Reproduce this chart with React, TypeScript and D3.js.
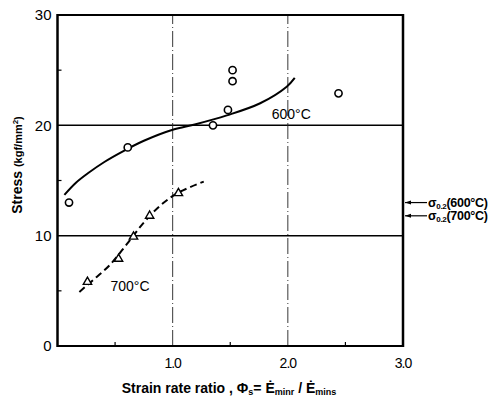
import React from 'react';
import * as d3 from 'd3';

// measured points, 600°C (circles)
const circX600 = [0.1, 0.61, 1.35, 1.48, 1.52, 1.52, 2.44];
const circY600 = [13.0, 18.0, 20.0, 21.4, 24.0, 25.0, 22.9];
// fitted curve 600°C
const fitX600 = [0.06, 0.16, 0.27, 0.41, 0.56, 0.75, 1.0, 1.2, 1.47, 1.76, 1.99, 2.06];
const fitY600 = [13.7, 14.8, 15.7, 16.7, 17.6, 18.6, 19.6, 20.1, 20.9, 22.0, 23.5, 24.3];
// measured points, 700°C (triangles)
const triX700 = [0.26, 0.53, 0.66, 0.8, 1.05];
const triY700 = [5.8, 7.9, 9.9, 11.8, 13.85];
// fitted curve 700°C (dashed)
const fitX700 = [0.19, 0.3, 0.45, 0.6, 0.75, 0.9, 1.05, 1.27];
const fitY700 = [4.9, 5.9, 7.3, 9.2, 11.2, 12.8, 13.9, 14.9];

const yTicks = [0, 10, 20, 30];
const yMinor = [5, 15, 25];
const xTicks = [1.0, 2.0, 3.0];
const xMinor = [0.5, 1.5, 2.5];
const sigma02 = [13.0, 11.8]; // 600°C, 700°C

const W = 495;
const H = 399;

const App: React.FC = () => {
  const x = d3.scaleLinear().domain([0, 3]).range([57.5, 403]);
  const y = d3.scaleLinear().domain([0, 30]).range([346, 15]);

  const line = d3.line<[number, number]>()
    .x(d => x(d[0]))
    .y(d => y(d[1]))
    .curve(d3.curveCatmullRom);

  const p600 = line(fitX600.map((v, i) => [v, fitY600[i]]) as [number, number][]) || '';
  const p700 = line(fitX700.map((v, i) => [v, fitY700[i]]) as [number, number][]) || '';

  const tri = d3.symbol().type(d3.symbolTriangle).size(30)() || '';
  const font = 'Liberation Sans, Arial, sans-serif';

  return (
    <svg width={W} height={H} style={{ position: 'absolute', left: 0, top: 0 }}
      fontFamily={font}>
      <rect width={W} height={H} fill="#fff" />

      {/* grid */}
      {[10, 20].map(v => (
        <line key={'h' + v} x1={x(0)} x2={x(3)} y1={y(v)} y2={y(v)} stroke="#000" strokeWidth={1.5} />
      ))}
      {[1, 2].map(v => (
        <line key={'v' + v} x1={x(v)} x2={x(v)} y1={y(0)} y2={y(30)} stroke="#222"
          strokeWidth={0.9} strokeDasharray="16 3 1 3" />
      ))}

      {/* frame */}
      <line x1={x(0)} x2={x(3)} y1={y(30)} y2={y(30)} stroke="#000" strokeWidth={2} />
      <line x1={x(0)} x2={x(3)} y1={y(0)} y2={y(0)} stroke="#000" strokeWidth={2} />
      <line x1={x(0)} x2={x(0)} y1={y(0) + 1} y2={y(30) - 1} stroke="#000" strokeWidth={2.5} />
      <line x1={x(3)} x2={x(3)} y1={y(0) + 1} y2={y(30) - 1} stroke="#000" strokeWidth={2.5} />

      {/* minor ticks */}
      {yMinor.map(v => (
        <line key={'ym' + v} x1={x(0)} x2={x(0) + 4} y1={y(v)} y2={y(v)} stroke="#000" strokeWidth={1.2} />
      ))}
      {xMinor.map(v => (
        <line key={'xm' + v} x1={x(v)} x2={x(v)} y1={y(0)} y2={y(0) - 4} stroke="#000" strokeWidth={1.2} />
      ))}

      {/* tick labels */}
      {yTicks.map(v => (
        <text key={'yt' + v} x={x(0) - 6} y={y(v)} dy="0.36em" textAnchor="end" fontSize={15}>
          {v}
        </text>
      ))}
      {xTicks.map(v => (
        <text key={'xt' + v} x={x(v)} y={y(0) + 22} textAnchor="middle" fontSize={14} letterSpacing={-1}>
          {v.toFixed(1)}
        </text>
      ))}

      {/* curves */}
      <path d={p600} fill="none" stroke="#000" strokeWidth={2} />
      <path d={p700} fill="none" stroke="#000" strokeWidth={2} strokeDasharray="7 4" />

      {/* markers */}
      {circX600.map((v, i) => (
        <circle key={'c' + i} cx={x(v)} cy={y(circY600[i])} r={3.6} fill="#fff" stroke="#000" strokeWidth={1.6} />
      ))}
      {triX700.map((v, i) => (
        <path key={'t' + i} d={tri} transform={`translate(${x(v)},${y(triY700[i])})`}
          fill="#fff" stroke="#000" strokeWidth={1.4} />
      ))}

      {/* curve labels */}
      <text x={x(1.86)} y={y(20.6)} fontSize={14}>600°C</text>
      <text x={x(0.46)} y={y(5)} fontSize={14}>700°C</text>

      {/* sigma 0.2 markers */}
      {sigma02.map((v, i) => (
        <g key={'s' + i}>
          <line x1={x(3) + 2} x2={x(3) + 24} y1={y(v)} y2={y(v)} stroke="#000" strokeWidth={1.2} />
          <path d={`M${x(3) + 2},${y(v)} l6,-2 l0,4 z`} fill="#000" />
          <text x={x(3) + 25} y={y(v)} dy="0.35em" fontSize={12.5} fontWeight="bold" letterSpacing={-0.3}>
            σ<tspan fontSize={8} dy="2">0.2</tspan>
            <tspan dy="-2">{i === 0 ? '(600°C)' : '(700°C)'}</tspan>
          </text>
        </g>
      ))}

      {/* axis titles */}
      <text transform={`translate(22,${165}) rotate(-90)`} textAnchor="middle" fontSize={14} fontWeight="bold">
        Stress <tspan fontSize={11}>(kgf/mm</tspan><tspan fontSize={8} dy="-4">2</tspan><tspan fontSize={11} dy="4">)</tspan>
      </text>
      <text x={229} y={393} textAnchor="middle" fontSize={14} fontWeight="bold">
        Strain rate ratio , Φ<tspan fontSize={9} dy="2">s</tspan><tspan dy="-2">= Ė</tspan>
        <tspan fontSize={9} dy="2">minr</tspan><tspan dy="-2"> / Ė</tspan>
        <tspan fontSize={9} dy="2">mins</tspan>
      </text>
    </svg>
  );
};

export default App;
